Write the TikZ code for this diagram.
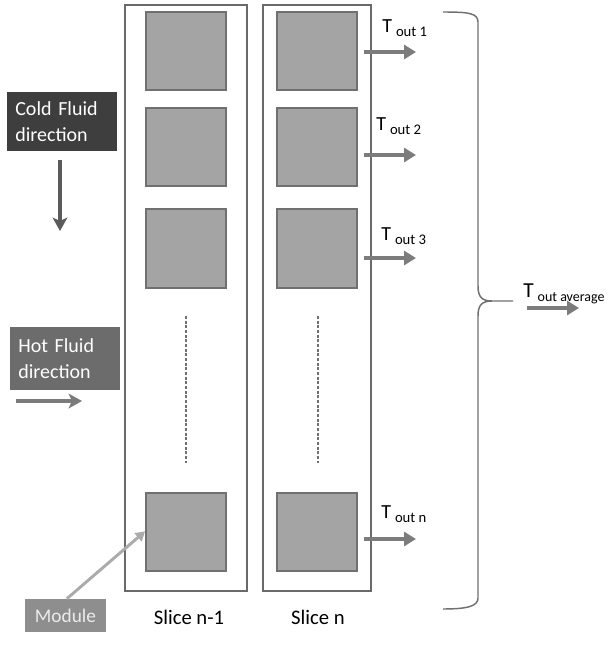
\documentclass[tikz,border=0pt]{standalone}
\usepackage{fontspec}
\setmainfont{Carlito}
\usetikzlibrary{arrows.meta}
\definecolor{modfill}{HTML}{A4A4A4}
\definecolor{moddraw}{HTML}{707070}
\definecolor{slicedraw}{HTML}{6A6A6A}
\definecolor{arrowgray}{HTML}{7C7C7C}
\definecolor{colddark}{HTML}{3E3E3E}
\definecolor{hotgray}{HTML}{6C6C6C}
\definecolor{modlabel}{HTML}{8E8E8E}
\definecolor{lightarrow}{HTML}{ABABAB}
\newcommand\Tlab[1]{{\fontsize{15}{15}\selectfont T}\hspace{3pt}\raisebox{-3pt}{\fontsize{11}{11}\selectfont out #1}}
\begin{document}
\begin{tikzpicture}[x=0.75pt,y=-0.75pt,
  slicebox/.style={draw=slicedraw,line width=1.2pt,minimum width=#1,minimum height=439.5pt,inner sep=0pt},
  modbox/.style={draw=moddraw,fill=modfill,line width=1.4pt,minimum width=60pt,minimum height=59pt,inner sep=0pt},
  outarrow/.style={draw=arrowgray,line width=3.4pt,-{Triangle[length=9pt,width=10.5pt]}},
  dashline/.style={draw=moddraw,line width=1.4pt,dash pattern=on 2.2pt off 1.3pt},
  infobox/.style={text=white,font=\fontsize{15}{19}\selectfont,align=left,text width=70pt,inner sep=0pt,minimum width=82.5pt},
  tlabel/.style={anchor=base west,inner sep=0pt},
  slicelabel/.style={font=\fontsize{15.5}{18}\selectfont,anchor=base}]
\useasboundingbox (0,0) rectangle (609,650);
% slices
\node[slicebox=91.5pt] (s1) at (186,298) {};
\node[slicebox=81pt] (s2) at (317,298) {};
% modules slice n-1
\node[modbox] (a1) at (186,51) {};
\node[modbox] (a2) at (186,147) {};
\node[modbox] (a3) at (186,248.5) {};
\node[modbox] (an) at (186,532) {};
% modules slice n
\node[modbox] (b1) at (317,51) {};
\node[modbox] (b2) at (317,147) {};
\node[modbox] (b3) at (317,248.5) {};
\node[modbox] (bn) at (317,532) {};
% dashed continuation lines
\coordinate (da1) at (186,316); \coordinate (da2) at (186,463);
\coordinate (db1) at (318,316); \coordinate (db2) at (318,463);
\draw[dashline] (da1) -- (da2);
\draw[dashline] (db1) -- (db2);
% output arrows
\coordinate (e1) at (416,52);
\coordinate (e2) at (416,155);
\coordinate (e3) at (416,258);
\coordinate (en) at (416,539);
\draw[outarrow] ([xshift=4.5pt]b1.east |- e1) -- (e1);
\draw[outarrow] ([xshift=4.5pt]b2.east |- e2) -- (e2);
\draw[outarrow] ([xshift=4.5pt]b3.east |- e3) -- (e3);
\draw[outarrow] ([xshift=4.5pt]bn.east |- en) -- (en);
% output labels
\node[tlabel] (t1) at (382,32) {\Tlab{1}};
\node[tlabel] (t2) at (376,130) {\Tlab{2}};
\node[tlabel] (t3) at (381,240) {\Tlab{3}};
\node[tlabel] (tn) at (381,518) {\Tlab{n}};
\node[tlabel] (tavg) at (523,297) {{\fontsize{16}{16}\selectfont T}\hspace{3pt}\raisebox{-3pt}{\fontsize{10.5}{10.5}\selectfont out average}};
% brace
\draw[draw=moddraw,line width=1.1pt]
  (443,12) .. controls (468,12) and (478,13) .. (478,22)
  -- (478,286) .. controls (478,297) and (482,301) .. (492,301) -- (513,301)
  (492,301) .. controls (482,301) and (478,305) .. (478,316)
  -- (478,598) .. controls (478,606) and (468,609) .. (443,609);
\coordinate (avs) at (527,308);
\coordinate (ave) at (579,308);
\draw[outarrow] (avs) -- (ave);
% slice labels
\node[slicelabel] (l1) at (189,624) {Slice n-1};
\node[slicelabel] (l2) at (318,624) {Slice n};
% cold fluid
\node[infobox,fill=colddark,minimum height=44pt] (cold) at (62,121.5) {Cold Fluid\\direction};
\coordinate (cs) at (60,160);
\coordinate (ce) at (60,231);
\draw[draw=colddark!85,line width=2.6pt,-{Stealth[length=10pt,width=11pt,inset=2.5pt]}] (cs) -- (ce);
% hot fluid
\node[infobox,fill=hotgray,minimum height=47pt] (hot) at (65,358.5) {Hot Fluid\\direction};
\coordinate (hs) at (16,401);
\coordinate (he) at (82,401);
\draw[draw=hotgray!90,line width=2.6pt,-{Stealth[length=10pt,width=11pt,inset=2.5pt]}] (hs) -- (he);
% module label
\node[fill=modlabel,text=white!92!black,font=\fontsize{14.5}{16}\selectfont,minimum width=60.75pt,minimum height=24.75pt,inner sep=0pt] (mod) at (65.5,615.5) {Module};
\draw[draw=lightarrow,line width=2.2pt,-{Triangle[length=7pt,width=8pt]}] ([xshift=1pt]mod.north) -- ([yshift=0.5pt]an.west);
\end{tikzpicture}
\end{document}
